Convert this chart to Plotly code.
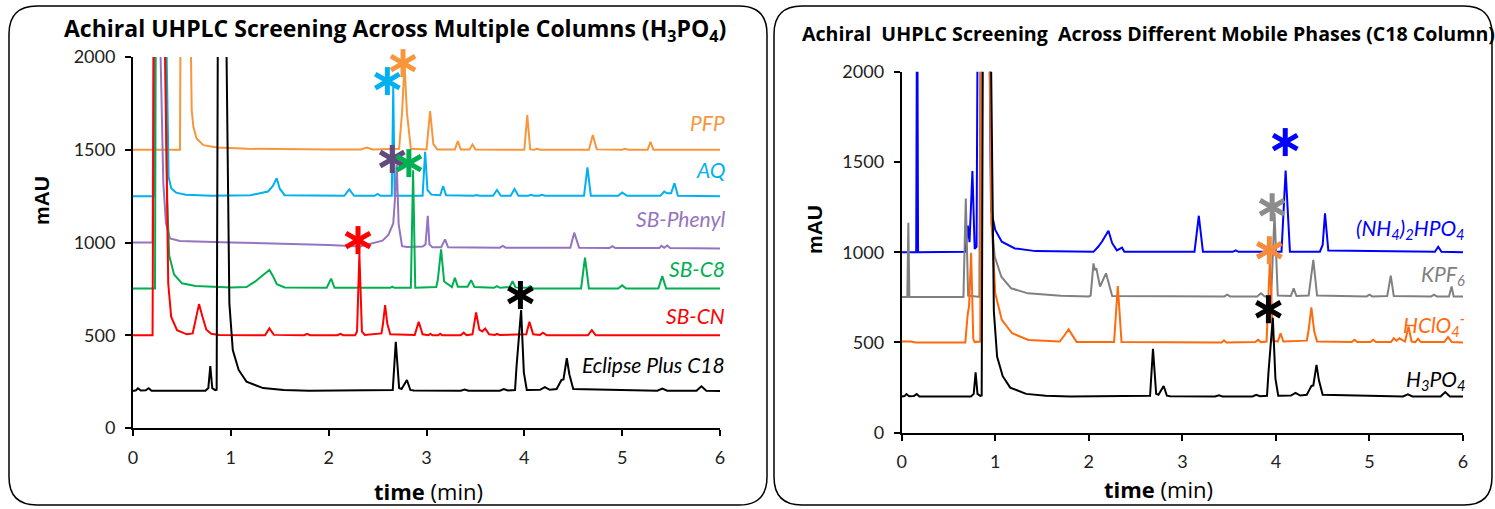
import plotly.graph_objects as go

W, H = 1495, 509

# ---------------- data (time in min, signal in mAU) ----------------
# Eclipse Plus C18 / H3PO4 (same run shown in both panels)
c18_t = [0.00, 0.03, 0.05, 0.08, 0.13, 0.16, 0.19, 0.74, 0.77, 0.79, 0.81, 0.84, 0.855, 0.87, 0.95,
         0.985, 1.02, 1.08, 1.16, 1.33, 1.54, 1.80, 2.655, 2.686, 2.72, 2.745, 2.80, 2.835, 2.87,
         3.35, 3.39, 3.43, 3.75, 3.79, 3.83, 3.905, 3.92, 3.935, 3.967, 3.995, 4.025, 4.16, 4.21,
         4.26, 4.33, 4.36, 4.38, 4.40, 4.434, 4.46, 4.50, 5.36, 5.41, 5.46, 5.76, 5.81, 5.86, 6.00]
c18_y = [200, 203, 214, 202, 203, 214, 201, 201, 215, 334, 215, 204, 206, 2600, 2300,
         672, 420, 313, 250, 215, 205, 201, 205, 465, 215, 210, 259, 205, 202,
         201, 207, 201, 201, 210, 202, 205, 330, 420, 636, 300, 205, 206, 220,
         206, 210, 240, 259, 262, 376, 290, 210, 201, 212, 201, 201, 225, 201, 200]

cn_t = [0.00, 0.20, 0.215, 0.32, 0.36, 0.39, 0.45, 0.55, 0.61, 0.645, 0.675, 0.71, 0.75, 0.80, 0.88,
        1.35, 1.394, 1.44, 1.75, 1.78, 1.81, 2.09, 2.12, 2.15, 2.27, 2.29, 2.314, 2.34, 2.37,
        2.54, 2.555, 2.577, 2.60, 2.63, 2.88, 2.92, 2.96, 3.02, 3.04, 3.06, 3.12, 3.14, 3.16,
        3.35, 3.38, 3.41, 3.47, 3.507, 3.54, 3.57, 3.60, 3.64, 3.70, 3.72, 3.75, 4.02, 4.052,
        4.09, 4.16, 4.19, 4.23, 4.65, 4.69, 4.73, 6.00]
cn_y = [500, 500, 2600, 2300, 780, 600, 527, 505, 510, 600, 668, 600, 530, 508, 502,
        500, 537, 502, 500, 508, 500, 500, 508, 500, 500, 520, 938, 520, 502,
        510, 560, 663, 560, 505, 502, 573, 505, 500, 508, 500, 500, 508, 500,
        500, 514, 500, 505, 623, 530, 520, 536, 505, 502, 507, 501, 505, 573,
        505, 502, 514, 500, 500, 527, 500, 500]

c8_t = [0.00, 0.225, 0.235, 0.325, 0.35, 0.37, 0.42, 0.50, 0.64, 1.00, 1.16, 1.25, 1.33, 1.394,
        1.43, 1.47, 1.55, 1.98, 2.025, 2.06, 2.29, 2.31, 2.33, 2.63, 2.65, 2.67, 2.84, 2.863,
        2.885, 3.10, 3.116, 3.149, 3.18, 3.26, 3.29, 3.32, 3.42, 3.456, 3.49, 3.69, 3.72, 3.75,
        3.85, 3.88, 3.91, 4.03, 4.06, 4.09, 4.58, 4.62, 4.66, 4.96, 5.00, 5.04, 5.37, 5.41,
        5.45, 6.00]
c8_y = [752, 752, 2600, 2300, 1230, 930, 828, 780, 766, 758, 760, 790, 825, 852,
        820, 775, 758, 756, 805, 756, 756, 762, 756, 756, 762, 756, 756, 1390,
        756, 760, 800, 963, 790, 760, 810, 762, 762, 797, 760, 756, 765, 756,
        760, 792, 758, 756, 765, 752, 752, 918, 752, 752, 769, 752, 752, 819,
        752, 752]

ph_t = [0.00, 0.20, 0.215, 0.27, 0.31, 0.337, 0.378, 0.48, 1.00, 1.50, 2.00, 2.32, 2.45, 2.55,
        2.61, 2.66, 2.68, 2.696, 2.715, 2.75, 2.80, 2.96, 2.99, 3.013, 3.03, 3.06, 3.15, 3.19,
        3.22, 3.75, 3.78, 3.81, 4.47, 4.51, 4.56, 4.87, 4.90, 4.93, 5.38, 5.40, 5.43, 5.46,
        5.49, 6.00]
ph_y = [1000, 1000, 2600, 2300, 1318, 1103, 1022, 1008, 1000, 995, 987, 978, 995, 1010,
        1041, 1103, 1250, 1420, 1100, 980, 976, 978, 990, 1144, 990, 975, 975, 1017,
        975, 972, 982, 972, 972, 1053, 972, 970, 980, 970, 970, 982, 972, 984,
        970, 968]

aq_t = [0.00, 0.215, 0.225, 0.335, 0.364, 0.39, 0.44, 0.54, 0.80, 1.20, 1.38, 1.43, 1.469, 1.50,
        1.55, 2.16, 2.21, 2.26, 2.47, 2.50, 2.53, 2.645, 2.66, 2.675, 2.96, 2.986, 3.01, 3.05,
        3.14, 3.17, 3.20, 3.48, 3.51, 3.54, 3.68, 3.72, 3.76, 3.86, 3.90, 3.94, 4.04, 4.07,
        4.10, 4.15, 4.18, 4.21, 4.61, 4.645, 4.68, 4.96, 5.00, 5.05, 5.39, 5.43, 5.46, 5.50,
        5.535, 5.57, 6.00]
aq_y = [1250, 1250, 2600, 2300, 1354, 1292, 1269, 1257, 1252, 1255, 1275, 1305, 1346, 1290,
        1255, 1252, 1286, 1252, 1252, 1262, 1252, 1252, 1840, 1252, 1252, 1489, 1283, 1258,
        1255, 1304, 1255, 1252, 1256, 1252, 1252, 1283, 1252, 1252, 1288, 1252, 1252, 1257,
        1252, 1252, 1257, 1252, 1252, 1405, 1252, 1252, 1269, 1252, 1252, 1275, 1265, 1265,
        1320, 1252, 1250]

pfp_t = [0.00, 0.48, 0.49, 0.585, 0.60, 0.617, 0.65, 0.72, 0.86, 1.17, 2.00, 2.33, 2.39, 2.45,
         2.72, 2.75, 2.775, 2.80, 2.84, 3.00, 3.037, 3.07, 3.11, 3.29, 3.32, 3.35, 3.44, 3.47,
         3.50, 4.00, 4.03, 4.06, 4.10, 4.13, 4.16, 4.66, 4.70, 4.74, 5.00, 5.03, 5.06, 5.26,
         5.29, 5.32, 6.00]
pfp_y = [1500, 1500, 2600, 2300, 1714, 1624, 1561, 1525, 1512, 1505, 1502, 1502, 1512, 1502,
         1505, 1700, 1960, 1700, 1505, 1502, 1709, 1530, 1502, 1502, 1547, 1502, 1502, 1529,
         1502, 1500, 1687, 1502, 1500, 1505, 1500, 1500, 1579, 1502, 1500, 1505, 1500, 1500,
         1543, 1500, 1500]

# Right panel mobile phases on C18
nh4_t = [0.00, 0.155, 0.165, 0.175, 0.68, 0.707, 0.725, 0.756, 0.78, 0.80, 0.815, 0.93, 0.955,
         1.00, 1.07, 1.21, 1.43, 2.05, 2.10, 2.14, 2.21, 2.25, 2.30, 2.355, 2.38, 3.13, 3.176,
         3.22, 3.54, 3.57, 3.60, 4.06, 4.104, 4.15, 4.47, 4.50, 4.525, 4.56, 5.70, 5.735, 5.77,
         6.00]
nh4_y = [1000, 1000, 2700, 1000, 1002, 1147, 1055, 1450, 1018, 1030, 2600, 2600, 1234,
         1123, 1058, 1021, 1006, 1002, 1030, 1058, 1119, 1050, 1010, 1025, 1003, 1002, 1202,
         1003, 1002, 1010, 1002, 1003, 1452, 1003, 1003, 1040, 1215, 1010, 1002, 1030, 1002,
         1000]

kpf_t = [0.00, 0.06, 0.071, 0.082, 0.66, 0.685, 0.71, 0.83, 0.845, 0.935, 0.96, 0.995, 1.065,
         1.17, 1.35, 1.70, 2.00, 2.02, 2.05, 2.065, 2.08, 2.12, 2.184, 2.25, 3.45, 3.48, 3.51,
         3.80, 3.84, 3.88, 3.95, 3.985, 4.02, 4.16, 4.19, 4.22, 4.35, 4.40, 4.44, 4.97, 5.00,
         5.03, 5.19, 5.228, 5.26, 5.66, 5.69, 5.72, 5.85, 5.878, 5.90, 6.00]
kpf_y = [752, 752, 1163, 752, 752, 1298, 760, 752, 2700, 2600, 1158, 974, 864,
         800, 772, 759, 755, 760, 938, 900, 911, 810, 883, 757, 755, 765, 755,
         755, 772, 755, 760, 1215, 760, 757, 800, 757, 760, 957, 760, 755, 765,
         755, 757, 870, 757, 755, 765, 755, 755, 810, 755, 755]

clo_t = [0.00, 0.10, 0.15, 0.68, 0.706, 0.72, 0.742, 0.765, 0.78, 0.84, 0.85, 0.93, 0.96, 1.00,
         1.07, 1.18, 1.355, 1.64, 1.69, 1.74, 1.784, 1.83, 1.87, 2.27, 2.31, 2.35, 3.42, 3.445,
         3.47, 3.78, 3.81, 3.84, 3.90, 3.936, 3.97, 4.02, 4.05, 4.08, 4.33, 4.35, 4.379, 4.41,
         4.44, 4.81, 4.84, 4.87, 5.01, 5.04, 5.07, 5.23, 5.26, 5.29, 5.32, 5.38, 5.418, 5.45,
         5.49, 5.52, 5.55, 5.80, 5.84, 5.88, 6.00]
clo_y = [505, 505, 500, 500, 660, 700, 997, 520, 502, 505, 2700, 2600, 1178, 772,
         625, 551, 514, 505, 505, 540, 573, 535, 503, 502, 813, 502, 500, 512,
         500, 502, 515, 502, 505, 960, 510, 505, 551, 505, 510, 569, 695, 560,
         505, 502, 515, 502, 502, 515, 502, 502, 523, 510, 523, 505, 587, 505,
         502, 520, 502, 502, 530, 502, 500]

# series names / colours
left_names = ["PFP", "AQ", "SB-Phenyl", "SB-C8", "SB-CN", "Eclipse Plus C18"]
left_colors = ["#F7963B", "#00B0F0", "#9673C0", "#00B050", "#FF0000", "#000000"]
left_t = [pfp_t, aq_t, ph_t, c8_t, cn_t, c18_t]
left_y = [pfp_y, aq_y, ph_y, c8_y, cn_y, c18_y]
left_label_y = [1649, 1391, 1132, 862, 604, 340]

right_names = ["(NH<sub>4</sub>)<sub>2</sub>HPO<sub>4</sub>", "KPF<sub>6</sub>",
               "HClO<sub>4</sub><sup>-</sup>", "H<sub>3</sub>PO<sub>4</sub>"]
right_colors = ["#0000FF", "#808080", "#FF6A0D", "#000000"]
right_t = [nh4_t, kpf_t, clo_t, c18_t]
right_y = [nh4_y, kpf_y, clo_y, c18_y]
right_label_y = [1128, 873, 600, 290]

# asterisks marking the peak of interest
left_star_t = [2.60, 2.76, 2.65, 2.82, 2.30, 3.96]
left_star_y = [1870, 1967, 1450, 1428, 1013, 717]
left_star_c = ["#00B0F0", "#F7963B", "#604A7B", "#00B050", "#FF0000", "#000000"]
right_star_t = [4.10, 3.96, 3.93, 3.92]
right_star_y = [1610, 1249, 1011, 684]
right_star_c = ["#0000FF", "#8C8C8C", "#F58B3C", "#000000"]

x_ticks = [0, 1, 2, 3, 4, 5, 6]
y_ticks = [0, 500, 1000, 1500, 2000]

# ---------------- figure ----------------
fig = go.Figure()


def px2x(x):
    return x / W


def px2y(y):
    return 1 - y / H


fig.update_layout(
    xaxis=dict(domain=[px2x(133), px2x(720)], anchor="y"),
    yaxis=dict(domain=[px2y(428), px2y(57)], anchor="x"),
    xaxis2=dict(domain=[px2x(901.7), px2x(1463)], anchor="y2"),
    yaxis2=dict(domain=[px2y(432.7), px2y(71.7)], anchor="x2"),
)

for name, col, tt, yy in zip(left_names, left_colors, left_t, left_y):
    fig.add_trace(go.Scatter(x=tt, y=yy, mode="lines", name=name,
                             line=dict(color=col, width=2), xaxis="x", yaxis="y",
                             showlegend=False))
for name, col, tt, yy in zip(right_names, right_colors, right_t, right_y):
    fig.add_trace(go.Scatter(x=tt, y=yy, mode="lines", name=name,
                             line=dict(color=col, width=2), xaxis="x2", yaxis="y2",
                             showlegend=False))


def add_stars(ts, ys, cs, xa, ya):
    for t, y, c in zip(ts, ys, cs):
        fig.add_trace(go.Scatter(
            x=[t, t, t], y=[y, y, y], mode="markers", xaxis=xa, yaxis=ya,
            showlegend=False, hoverinfo="skip", cliponaxis=False,
            marker=dict(symbol="line-ns", size=20, angle=[0, 60, -60],
                        line=dict(color=c, width=5))))


add_stars(left_star_t, left_star_y, left_star_c, "x", "y")
add_stars(right_star_t, right_star_y, right_star_c, "x2", "y2")

tickfont = dict(family="Lato", size=18, color="#222222")
axis_common = dict(showline=True, linecolor="black", linewidth=2, ticks="outside",
                   tickcolor="black", tickwidth=2, ticklen=6, showgrid=False,
                   zeroline=False, tickfont=tickfont, automargin=False)
for ax in ["xaxis", "xaxis2"]:
    fig.layout[ax].update(range=[0, 6], tickvals=x_ticks, ticklabelstandoff=6, **axis_common)
for ax in ["yaxis", "yaxis2"]:
    fig.layout[ax].update(range=[0, 2000], tickvals=y_ticks, ticklabelstandoff=6, **axis_common)

ann = []
# series labels (anchored at the right end of each x axis)
for name, col, ly in zip(left_names, left_colors, left_label_y):
    ann.append(dict(x=6, y=ly, xref="x", yref="y", text="<i>" + name + "</i>",
                    xanchor="right", yanchor="middle", showarrow=False, xshift=7,
                    font=dict(family="Lato", size=21, color=col)))
for name, col, ly in zip(right_names, right_colors, right_label_y):
    ann.append(dict(x=6, y=ly, xref="x2", yref="y2", text="<i>" + name + "</i>",
                    xanchor="right", yanchor="middle", showarrow=False, xshift=4,
                    font=dict(family="Lato", size=21, color=col)))

# titles
ann.append(dict(x=px2x(395), y=px2y(30), xref="paper", yref="paper",
                text="<b>Achiral UHPLC Screening Across Multiple Columns (H<sub>3</sub>PO<sub>4</sub>)</b>",
                showarrow=False, xanchor="center", yanchor="middle",
                font=dict(family="Open Sans", size=23, color="black")))
ann.append(dict(x=px2x(800), y=px2y(34), xref="paper", yref="paper",
                text="<b>Achiral  UHPLC Screening  Across Different Mobile Phases (C18 Column)</b>",
                showarrow=False, xanchor="left", yanchor="middle",
                font=dict(family="Open Sans", size=19.6, color="black")))
# axis titles
for xc, yc in [(41, 201), (814, 229)]:
    ann.append(dict(x=px2x(xc), y=px2y(yc), xref="paper", yref="paper", text="<b>mAU</b>",
                    textangle=-90, showarrow=False, xanchor="center", yanchor="middle",
                    font=dict(family="Liberation Sans", size=21, color="black")))
for xc, yc in [(428, 491), (1158, 489)]:
    ann.append(dict(x=px2x(xc), y=px2y(yc), xref="paper", yref="paper",
                    text="<b>time</b> (min)", showarrow=False, xanchor="center",
                    yanchor="middle", font=dict(family="Open Sans", size=22, color="black")))


def rrect(x0, y0, x1, y1, r):
    pts = [("M", [(x0 + r, y0)]), ("L", [(x1 - r, y0)]), ("Q", [(x1, y0), (x1, y0 + r)]),
           ("L", [(x1, y1 - r)]), ("Q", [(x1, y1), (x1 - r, y1)]), ("L", [(x0 + r, y1)]),
           ("Q", [(x0, y1), (x0, y1 - r)]), ("L", [(x0, y0 + r)]), ("Q", [(x0, y0), (x0 + r, y0)])]
    s = ""
    for cmd, p in pts:
        s += cmd + " " + " ".join(f"{px2x(a):.5f},{px2y(b):.5f}" for a, b in p) + " "
    return s + "Z"


shapes = [
    dict(type="path", xref="paper", yref="paper", path=rrect(9, 6, 767, 505, 28),
         line=dict(color="black", width=1.5)),
    dict(type="path", xref="paper", yref="paper", path=rrect(774, 6, 1492, 505, 28),
         line=dict(color="black", width=1.5)),
]

fig.update_layout(width=W, height=H,
                  margin=dict(l=0, r=0, t=0, b=0, pad=0, autoexpand=False),
                  paper_bgcolor="white", plot_bgcolor="white",
                  annotations=ann, shapes=shapes, showlegend=False)

fig.write_html("out.html", config={"displayModeBar": False},
               post_script="document.body.style.margin='0';document.body.style.overflow='hidden';")
